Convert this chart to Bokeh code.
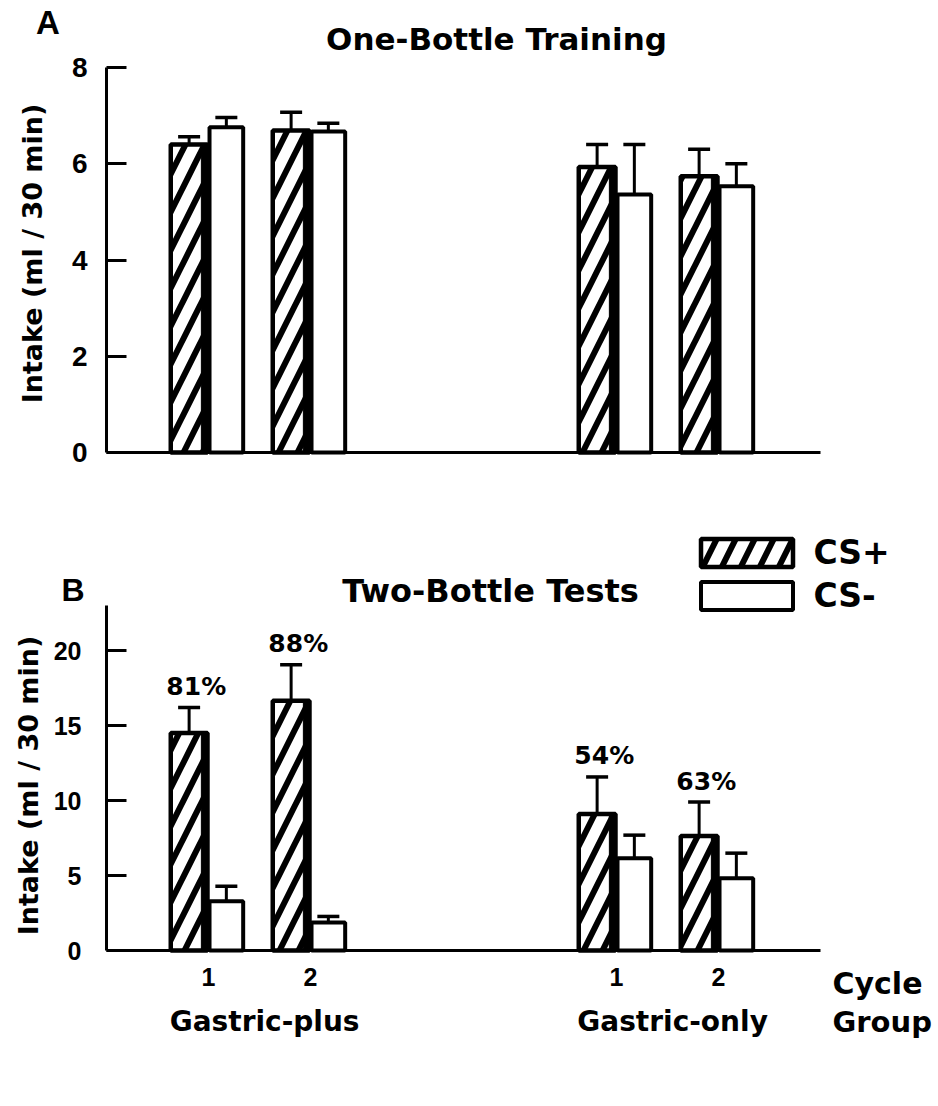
import numpy as np
from bokeh.plotting import figure
from bokeh.layouts import column
from bokeh.models import (LinearAxis, FixedTicker, Label, Whisker, TeeHead,
                          ColumnDataSource, Range1d, Legend, LegendItem)
from bokeh.embed import file_html
from bokeh.resources import INLINE
from bokeh.core.properties import value

# ---------------- data ----------------
groups = ["Gastric-plus", "Gastric-only"]
cycles = ["1", "2"]
series = ["CS+", "CS-"]

# Panel A: One-Bottle Training (ml / 30 min), order: GP c1, GP c2, GO c1, GO c2
a_plus = [6.40, 6.69, 5.93, 5.74]
a_plus_sem = [0.16, 0.38, 0.47, 0.56]
a_minus = [6.76, 6.67, 5.36, 5.53]
a_minus_sem = [0.20, 0.17, 1.04, 0.47]

# Panel B: Two-Bottle Tests
b_plus = [14.5, 16.65, 9.1, 7.63]
b_plus_sem = [1.7, 2.4, 2.47, 2.27]
b_minus = [3.28, 1.87, 6.15, 4.82]
b_minus_sem = [1.0, 0.4, 1.54, 1.67]
b_pref = ["81%", "88%", "54%", "63%"]

a_ticks = [0, 2, 4, 6, 8]
b_ticks = [0, 5, 10, 15, 20]

# ---------------- layout ----------------
WORD = "DejaVu Sans"
DIGIT = "Liberation Sans"
W = 938
X0, XS = 106.0, 102.0          # screen x of data x=0, px per unit
pos = [1 + c + 4 * g for g in range(len(groups)) for c in range(len(cycles))]
tick_labels = {p_: cycles[i % len(cycles)] for i, p_ in enumerate(pos)}
PLUS_DX, PLUS_W = -0.19, 0.36
MINUS_DX, MINUS_W = 0.175, 0.33


def sx(px):
    return (px - X0) / XS


def make_fig(height, y0_px, ys):
    # full-frame figure: y0_px = screen y (in this figure) of data y=0, ys = px per unit
    p = figure(width=W, height=height,
               x_range=Range1d(sx(0), sx(W)),
               y_range=Range1d((y0_px - height) / ys, y0_px / ys),
               output_backend="svg", toolbar_location=None,
               min_border=0, x_axis_location=None, y_axis_location=None)
    p.grid.visible = False
    p.outline_line_color = None
    return p


def style_axis(ax, size):
    ax.axis_line_color = "black"
    ax.axis_line_width = 3
    ax.major_tick_line_color = "black"
    ax.major_tick_line_width = 3
    ax.minor_tick_line_color = None
    ax.major_label_text_font = DIGIT
    ax.major_label_text_font_style = "bold"
    ax.major_label_text_font_size = size
    ax.major_label_text_color = "black"


def add_axes(p, ticks, top, standoff, size, xticks=None):
    ay = LinearAxis(ticker=FixedTicker(ticks=ticks), bounds=(0, top), fixed_location=0)
    style_axis(ay, size)
    ay.major_tick_in = 20
    ay.major_tick_out = 0
    ay.major_label_standoff = standoff
    p.add_layout(ay, "left")
    ax = LinearAxis(ticker=FixedTicker(ticks=xticks or []), bounds=(0, 7), fixed_location=0,
                    major_label_overrides=tick_labels if xticks else {})
    style_axis(ax, "25px")
    ax.major_tick_line_color = None
    ax.major_tick_in = 0
    ax.major_tick_out = 0
    ax.major_label_standoff = 17
    p.add_layout(ax, "below")


def add_bars(p, plus, plus_sem, minus, minus_sem, pct=None, pct_dy=0.0):
    xp = [x + PLUS_DX for x in pos]
    xm = [x + MINUS_DX for x in pos]
    d = dict(xp=xp, xm=xm, plus=plus, minus=minus,
             plus_top=[m + s for m, s in zip(plus, plus_sem)],
             minus_top=[m + s for m, s in zip(minus, minus_sem)],
             edge=[x + PLUS_W / 2 - 0.03 for x in xp],
             px=[x + 0.07 for x in xp],
             py=[m + s + pct_dy for m, s in zip(plus, plus_sem)])
    if pct is not None:
        d["pct"] = pct
    src = ColumnDataSource(d)
    for base, lo, hi in (("xp", "plus", "plus_top"), ("xm", "minus", "minus_top")):
        p.add_layout(Whisker(source=src, base=base, lower=lo, upper=hi, dimension="height",
                             line_color="black", line_width=3, lower_head=None,
                             upper_head=TeeHead(size=22, line_width=3.5, line_color="black")))
    r_plus = p.vbar(x="xp", top="plus", width=PLUS_W, source=src, fill_color="white",
                    line_color="black", line_width=4.5, hatch_pattern="/",
                    hatch_color="black", hatch_weight=6, hatch_scale=38)
    p.vbar(x="edge", top="plus", width=0.06, source=src, fill_color="black",
           line_color="black", line_width=1)
    r_minus = p.vbar(x="xm", top="minus", width=MINUS_W, source=src, fill_color="white",
                     line_color="black", line_width=4)
    if pct is not None:
        p.text(x="px", y="py", text="pct", source=src, text_font=value(WORD),
               text_font_style="bold", text_font_size="25px", text_align="center",
               text_baseline="middle", text_color="black")
    return r_plus, r_minus


def label(p, x, y, text, size, font=WORD, align="center", angle=0.0):
    p.add_layout(Label(x=x, y=y, text=text, text_font=font, text_font_style="bold",
                       text_font_size=size, text_align=align, text_baseline="middle",
                       angle=angle, text_color="black"))


# ---------------- Panel A ----------------
HA, A0, AS = 500, 452.0, 48.125
pa = make_fig(HA, A0, AS)
ya = lambda py: (A0 - py) / AS
add_axes(pa, a_ticks, 8, 19, "28px")
add_bars(pa, a_plus, a_plus_sem, a_minus, a_minus_sem)
label(pa, sx(496), ya(38), "One-Bottle Training", "31px")
label(pa, sx(47.5), ya(22), "A", "33px", font=DIGIT)
label(pa, sx(32), ya(253), "Intake (ml / 30 min)", "27px", angle=np.pi / 2)

# ---------------- Panel B ----------------
HB, B0, BS = 600, 450.0, 15.0
OFF = 500  # page y of figure B top
pb = make_fig(HB, B0, BS)
yb = lambda py: (B0 + OFF - py) / BS
add_axes(pb, b_ticks, 23, 25, "25px", xticks=pos)
rp, rm = add_bars(pb, b_plus, b_plus_sem, b_minus, b_minus_sem, b_pref, pct_dy=21 / BS)

legend = Legend(items=[LegendItem(label=series[0], renderers=[rp]),
                       LegendItem(label=series[1], renderers=[rm])],
                location=(688.5, HB - (540 - 3.5 - OFF) - 78),
                glyph_width=115, glyph_height=35, label_height=35, label_standoff=10,
                spacing=4, padding=0, margin=0, border_line_color=None,
                background_fill_alpha=0, label_text_font=WORD, label_text_font_style="bold",
                label_text_font_size="33px", label_text_color="black")
pb.add_layout(legend)

label(pb, sx(490), yb(590), "Two-Bottle Tests", "32px")
label(pb, sx(72.5), yb(589), "B", "32px", font=DIGIT)
label(pb, sx(28), yb(785), "Intake (ml / 30 min)", "27px", angle=np.pi / 2)
for g, name in enumerate(groups):
    gx = (pos[2 * g] + pos[2 * g + 1]) / 2 + 0.05
    label(pb, gx, yb(1021), name, "28px")
label(pb, sx(832), yb(983), "Cycle", "30px", align="left")
label(pb, sx(832), yb(1021), "Group", "29px", align="left")

layout = column(pa, pb)
open("out.html", "w").write(file_html(layout, INLINE))
